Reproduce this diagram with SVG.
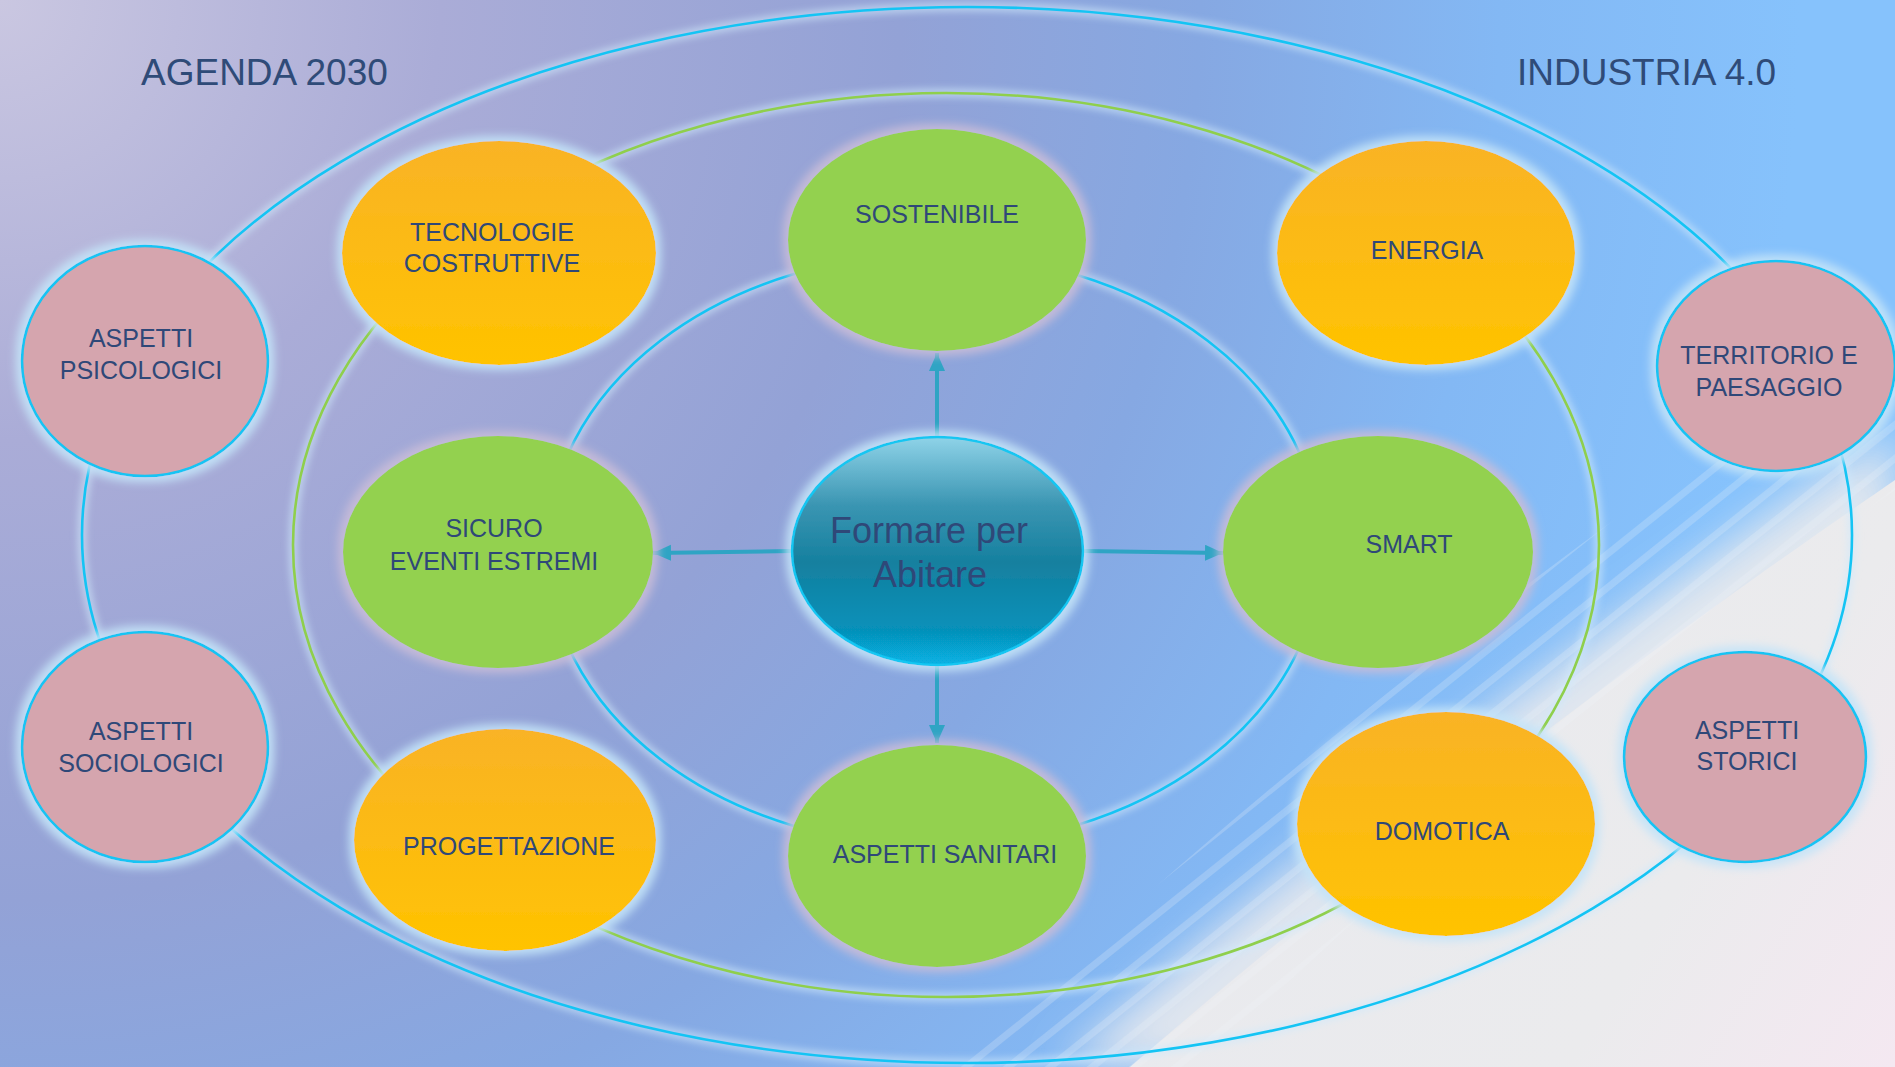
<svg xmlns="http://www.w3.org/2000/svg" width="1895" height="1067" viewBox="0 0 1895 1067">
<defs>
  <radialGradient id="bg" cx="0" cy="0" r="2000" gradientUnits="userSpaceOnUse">
    <stop offset="0" stop-color="#cac7e1"/>
    <stop offset="0.22" stop-color="#aaacd7"/>
    <stop offset="0.45" stop-color="#93a2d6"/>
    <stop offset="0.6" stop-color="#86a8e2"/>
    <stop offset="0.75" stop-color="#83b8f4"/>
    <stop offset="0.9" stop-color="#86c2fc"/>
  </radialGradient>
  <linearGradient id="gray" x1="1300" y1="700" x2="1895" y2="1067" gradientUnits="userSpaceOnUse">
    <stop offset="0" stop-color="#e9eaee"/>
    <stop offset="0.6" stop-color="#ebebed"/>
    <stop offset="1" stop-color="#f4e8f1"/>
  </linearGradient>
  <linearGradient id="orange" x1="0" y1="0" x2="0" y2="1">
    <stop offset="0" stop-color="#f9b326"/>
    <stop offset="1" stop-color="#ffc300"/>
  </linearGradient>
  <linearGradient id="teal" x1="0" y1="0" x2="0" y2="1">
    <stop offset="0" stop-color="#8fd3e8"/>
    <stop offset="0.3" stop-color="#3a95b2"/>
    <stop offset="0.55" stop-color="#15809f"/>
    <stop offset="0.85" stop-color="#0691ba"/>
    <stop offset="1" stop-color="#07b2e4"/>
  </linearGradient>
  <filter id="blur30" x="-20%" y="-20%" width="140%" height="140%">
    <feGaussianBlur stdDeviation="22"/>
  </filter>
  <filter id="lineglow" x="-10%" y="-10%" width="120%" height="120%">
    <feGaussianBlur stdDeviation="3"/>
  </filter>
  <filter id="glowBlue" x="-20%" y="-20%" width="140%" height="140%">
    <feMorphology in="SourceAlpha" operator="dilate" radius="5" result="d"/>
    <feGaussianBlur in="d" stdDeviation="4" result="b"/>
    <feFlood flood-color="#c4e4f8" flood-opacity="0.9"/>
    <feComposite in2="b" operator="in" result="g"/>
    <feMerge><feMergeNode in="g"/><feMergeNode in="SourceGraphic"/></feMerge>
  </filter>
  <filter id="glowLav" x="-20%" y="-20%" width="140%" height="140%">
    <feMorphology in="SourceAlpha" operator="dilate" radius="5" result="d"/>
    <feGaussianBlur in="d" stdDeviation="4" result="b"/>
    <feFlood flood-color="#c8bcd8" flood-opacity="0.9"/>
    <feComposite in2="b" operator="in" result="g"/>
    <feMerge><feMergeNode in="g"/><feMergeNode in="SourceGraphic"/></feMerge>
  </filter>
  <marker id="arr" markerUnits="userSpaceOnUse" markerWidth="20" markerHeight="18" refX="18" refY="8" orient="auto">
    <path d="M0,0 L18,8 L0,16 z" fill="#2fa4c4"/>
  </marker>
  <clipPath id="band">
    <path d="M1895,330 C1700,450 1320,720 960,1067 L1200,1067 C1450,820 1720,610 1895,490 Z"/>
  </clipPath>
</defs>
<style>
  .ring { fill: none; stroke-width: 2.6; }
  .rglow { fill: none; stroke: #cfe9fb; stroke-width: 10; opacity: 0.55; }
  .green { fill: #93d150; }
  .orange { fill: url(#orange); }
  .pink { fill: #d5a5ae; stroke: #12c4f4; stroke-width: 2.6; }
  .lbl { font-family: "Liberation Sans", Arial, sans-serif; font-size: 25px; fill: #2f4878; text-anchor: middle; }
  .head { font-family: "Liberation Sans", Arial, sans-serif; font-size: 37px; fill: #2f4b78; }
  .conn { stroke: #2fa4c4; stroke-width: 4; fill: none; }
</style>

<!-- background -->
<rect x="0" y="0" width="1895" height="1067" fill="url(#bg)"/>
<path d="M1895,430 C1700,560 1400,760 1060,1067 L1895,1067 Z" fill="url(#gray)" filter="url(#blur30)" opacity="0.9"/>
<path d="M1895,480 C1720,600 1440,800 1130,1067 L1895,1067 Z" fill="url(#gray)"/>
<g clip-path="url(#band)" stroke="#f2f4f8" stroke-width="7" opacity="0.22">
  <line x1="640" y1="1160" x2="1840" y2="200"/>
  <line x1="662" y1="1176" x2="1862" y2="216"/>
  <line x1="684" y1="1192" x2="1884" y2="232"/>
  <line x1="706" y1="1208" x2="1906" y2="248"/>
  <line x1="728" y1="1224" x2="1928" y2="264"/>
  <line x1="750" y1="1240" x2="1950" y2="280"/>
  <line x1="772" y1="1256" x2="1972" y2="296"/>
  <line x1="794" y1="1272" x2="1994" y2="312"/>
  <line x1="816" y1="1288" x2="2016" y2="328"/>
  <line x1="838" y1="1304" x2="2038" y2="344"/>
  <line x1="860" y1="1320" x2="2060" y2="360"/>
  <line x1="882" y1="1336" x2="2082" y2="376"/>
  <line x1="904" y1="1352" x2="2104" y2="392"/>
  <line x1="926" y1="1368" x2="2126" y2="408"/>
</g>

<!-- rings -->
<g id="rings">
  <g filter="url(#lineglow)">
    <ellipse class="rglow" cx="967" cy="535" rx="885" ry="528"/>
    <ellipse class="rglow" cx="946" cy="545" rx="653" ry="452"/>
    <ellipse class="rglow" cx="934" cy="550" rx="387" ry="296"/>
  </g>
  <ellipse class="ring" stroke="#14c4f4" cx="967" cy="535" rx="885" ry="528"/>
  <ellipse class="ring" stroke="#8fcf4c" cx="946" cy="545" rx="653" ry="452"/>
  <ellipse class="ring" stroke="#14c4f4" cx="934" cy="550" rx="387" ry="296"/>
</g>

<text class="head" x="141" y="85">AGENDA 2030</text>
<text class="head" x="1517" y="85">INDUSTRIA 4.0</text>

<!-- connectors -->
<g id="connectors">
  <line class="conn" x1="937" y1="437" x2="937" y2="353" marker-end="url(#arr)"/>
  <line class="conn" x1="937" y1="665" x2="937" y2="743" marker-end="url(#arr)"/>
  <line class="conn" x1="792" y1="551" x2="653" y2="553" marker-end="url(#arr)"/>
  <line class="conn" x1="1083" y1="551" x2="1223" y2="553" marker-end="url(#arr)"/>
</g>

<!-- nodes -->
<g id="n-psicologici">
  <ellipse class="pink" cx="145" cy="361" rx="123" ry="115" filter="url(#glowBlue)"/>
  <text class="lbl" x="141" y="347">ASPETTI</text>
  <text class="lbl" x="141" y="379">PSICOLOGICI</text>
</g>
<g id="n-sociologici">
  <ellipse class="pink" cx="145" cy="747" rx="123" ry="115" filter="url(#glowBlue)"/>
  <text class="lbl" x="141" y="740">ASPETTI</text>
  <text class="lbl" x="141" y="772">SOCIOLOGICI</text>
</g>
<g id="n-territorio">
  <ellipse class="pink" cx="1776" cy="366" rx="119" ry="105" filter="url(#glowBlue)"/>
  <text class="lbl" x="1769" y="364">TERRITORIO E</text>
  <text class="lbl" x="1769" y="396">PAESAGGIO</text>
</g>
<g id="n-storici">
  <ellipse class="pink" cx="1745" cy="757" rx="121" ry="105" filter="url(#glowBlue)"/>
  <text class="lbl" x="1747" y="739">ASPETTI</text>
  <text class="lbl" x="1747" y="770">STORICI</text>
</g>
<g id="n-tecnologie">
  <ellipse class="orange" cx="499" cy="253" rx="157" ry="112" filter="url(#glowBlue)"/>
  <text class="lbl" x="492" y="241">TECNOLOGIE</text>
  <text class="lbl" x="492" y="272">COSTRUTTIVE</text>
</g>
<g id="n-energia">
  <ellipse class="orange" cx="1426" cy="253" rx="149" ry="112" filter="url(#glowBlue)"/>
  <text class="lbl" x="1427" y="259">ENERGIA</text>
</g>
<g id="n-progettazione">
  <ellipse class="orange" cx="505" cy="840" rx="151" ry="111" filter="url(#glowBlue)"/>
  <text class="lbl" x="509" y="855">PROGETTAZIONE</text>
</g>
<g id="n-domotica">
  <ellipse class="orange" cx="1446" cy="824" rx="149" ry="112" filter="url(#glowBlue)"/>
  <text class="lbl" x="1442" y="840">DOMOTICA</text>
</g>
<g id="n-sostenibile">
  <ellipse class="green" cx="937" cy="240" rx="149" ry="111" filter="url(#glowLav)"/>
  <text class="lbl" x="937" y="223">SOSTENIBILE</text>
</g>
<g id="n-sicuro">
  <ellipse class="green" cx="498" cy="552" rx="155" ry="116" filter="url(#glowLav)"/>
  <text class="lbl" x="494" y="537">SICURO</text>
  <text class="lbl" x="494" y="570">EVENTI ESTREMI</text>
</g>
<g id="n-smart">
  <ellipse class="green" cx="1378" cy="552" rx="155" ry="116" filter="url(#glowLav)"/>
  <text class="lbl" x="1409" y="553">SMART</text>
</g>
<g id="n-sanitari">
  <ellipse class="green" cx="937" cy="856" rx="149" ry="111" filter="url(#glowLav)"/>
  <text class="lbl" x="945" y="863">ASPETTI SANITARI</text>
</g>
<g id="n-center">
  <ellipse cx="937.5" cy="551" rx="145.5" ry="114" fill="url(#teal)" stroke="#12c6f2" stroke-width="2.6" filter="url(#glowBlue)"/>
  <text class="lbl" x="929" y="543" style="font-size:36px">Formare per</text>
  <text class="lbl" x="930" y="587" style="font-size:36px">Abitare</text>
</g>
</svg>
